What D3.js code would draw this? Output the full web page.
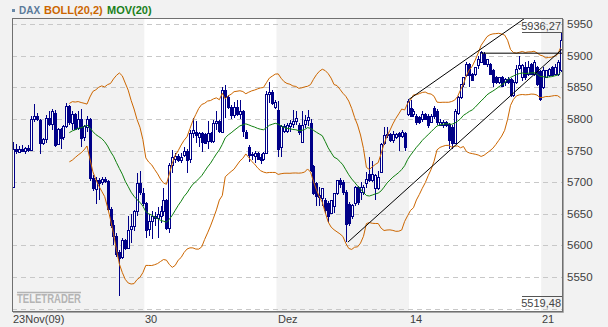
<!DOCTYPE html>
<html>
<head>
<meta charset="utf-8">
<script src="https://cdn.jsdelivr.net/npm/d3@7"></script>
<style>
  html, body { margin: 0; padding: 0; background: #f2f2f2; }
  svg { display: block; font-family: "Liberation Sans", Arial, sans-serif; }
</style>
</head>
<body>
<div id="chart"></div>
<script>
// hourly candles [open, high, low, close]
var candles = [
  [5692,5764,5690,5752],[5752,5760,5745,5749],[5749,5757,5746,5753],[5753,5758,5747,5750],
  [5750,5756,5745,5754],[5754,5759,5748,5751],[5751,5805,5750,5800],[5800,5823,5795,5804],
  [5804,5810,5797,5799],[5799,5800,5745,5762],[5762,5770,5758,5768],[5768,5806,5762,5802],
  [5802,5812,5788,5792],[5792,5815,5782,5812],[5810,5814,5755,5760],[5760,5786,5758,5784],
  [5784,5786,5752,5770],[5770,5790,5766,5788],[5788,5825,5786,5820],[5820,5822,5790,5794],
  [5794,5812,5782,5808],[5808,5810,5782,5785],[5785,5813,5782,5800],[5800,5815,5756,5770],
  [5770,5790,5765,5788],[5788,5805,5780,5800],[5800,5802,5702,5706],[5706,5712,5686,5690],
  [5690,5708,5665,5704],[5704,5706,5672,5700],[5700,5708,5696,5705],[5705,5708,5698,5702],
  [5702,5704,5655,5658],[5658,5660,5628,5632],[5632,5640,5600,5615],[5615,5620,5582,5586],
  [5590,5592,5519.48,5581],[5581,5612,5578,5608],[5608,5610,5592,5596],[5596,5646,5594,5625],
  [5625,5650,5604,5630],[5630,5656,5622,5654],[5654,5714,5646,5698],[5698,5718,5680,5683],
  [5683,5690,5662,5667],[5667,5668,5612,5625],[5625,5650,5614,5638],[5638,5655,5610,5646],
  [5646,5652,5630,5643],[5643,5660,5612,5650],[5646,5662,5636,5654],[5654,5690,5646,5672],
  [5672,5674,5625,5628],[5628,5730,5620,5727],[5727,5751,5715,5740],[5738,5746,5730,5742],
  [5742,5744,5732,5735],[5735,5746,5730,5740],[5743,5756,5740,5750],[5750,5752,5715,5736],
  [5736,5783,5731,5777],[5777,5801,5770,5782],[5780,5796,5762,5776],[5772,5780,5755,5778],
  [5778,5780,5748,5764],[5776,5778,5760,5762],[5764,5796,5752,5777],[5777,5779,5762,5764],
  [5764,5798,5762,5793],[5793,5812,5782,5796],[5796,5798,5778,5780],[5780,5850,5778,5846],
  [5846,5854,5802,5835],[5835,5838,5816,5819],[5819,5822,5800,5806],[5806,5826,5802,5819],
  [5819,5830,5805,5808],[5808,5830,5800,5812],[5812,5814,5772,5780],[5780,5782,5768,5770],
  [5756,5759,5732,5744],[5744,5748,5735,5742],[5742,5749,5730,5746],[5746,5748,5735,5737],
  [5740,5745,5728,5736],[5736,5748,5734,5746],[5746,5844,5744,5840],[5840,5859,5825,5843],
  [5843,5846,5822,5825],[5819,5830,5816,5827],[5814,5828,5740,5753],[5754,5790,5740,5788],
  [5780,5792,5778,5788],[5782,5794,5778,5791],[5788,5798,5780,5793],[5791,5814,5786,5796],
  [5796,5812,5790,5801],[5791,5793,5775,5780],[5764,5812,5762,5791],[5791,5806,5785,5798],
  [5798,5814,5788,5803],[5793,5800,5716,5719],[5725,5727,5680,5683],[5698,5700,5662,5677],
  [5677,5693,5662,5680],[5675,5691,5662,5691],[5672,5675,5650,5656],[5667,5670,5635,5646],
  [5651,5672,5650,5672],[5662,5683,5651,5683],[5683,5704,5680,5704],[5704,5706,5690,5698],
  [5700,5704,5680,5684],[5684,5688,5605,5634],[5666,5668,5630,5636],[5647,5666,5642,5664],
  [5666,5694,5662,5692],[5692,5694,5664,5668],[5684,5700,5672,5692],[5684,5696,5680,5692],
  [5698,5716,5690,5705],[5713,5740,5700,5703],[5703,5734,5700,5713],[5690,5713,5671,5711],
  [5690,5718,5688,5708],[5716,5762,5714,5761],[5761,5787,5758,5774],[5774,5787,5770,5776],
  [5776,5778,5763,5766],[5766,5781,5762,5776],[5771,5778,5768,5776],[5777,5779,5750,5772],
  [5772,5782,5770,5779],[5777,5779,5750,5755],[5808,5832,5805,5829],[5818,5830,5803,5805],
  [5808,5816,5803,5813],[5805,5807,5790,5795],[5803,5805,5792,5795],[5800,5813,5795,5808],
  [5808,5810,5798,5800],[5805,5807,5786,5790],[5795,5808,5793,5805],[5818,5821,5800,5805],
  [5813,5815,5790,5795],[5790,5800,5788,5795],[5790,5798,5786,5795],[5795,5797,5787,5790],
  [5792,5794,5753,5766],[5787,5790,5752,5761],[5761,5816,5760,5812],[5808,5836,5806,5834],
  [5834,5856,5832,5855],[5855,5867,5850,5866],[5869,5890,5866,5887],[5887,5889,5850,5870],
  [5871,5873,5860,5861],[5871,5882,5868,5882],[5885,5900,5879,5895],[5890,5908,5888,5906],
  [5903,5906,5885,5887],[5887,5895,5882,5895],[5887,5889,5869,5871],[5877,5879,5850,5858],
  [5866,5868,5855,5858],[5858,5866,5855,5866],[5866,5868,5850,5852],[5858,5865,5852,5863],
  [5863,5866,5856,5858],[5863,5864,5834,5837],[5837,5862,5835,5858],[5858,5885,5855,5879],
  [5880,5900,5878,5885],[5866,5887,5860,5885],[5882,5890,5862,5866],[5871,5892,5868,5882],
  [5887,5889,5869,5871],[5871,5893,5868,5890],[5882,5884,5852,5855],[5876,5878,5829,5831],
  [5850,5882,5848,5877],[5866,5878,5864,5877],[5869,5880,5866,5879],[5882,5884,5868,5869],
  [5871,5887,5869,5882],[5871,5893,5868,5890],[5878,5936.27,5874,5925]
];

var tickIndex = [0, 45, 90, 135, 180];
var tickLabels = ["23Nov(09)", "30", "Dez", "14", "21"];
var yTicks = [5500, 5550, 5600, 5650, 5700, 5750, 5800, 5850, 5900, 5950];

// drawn trend lines: [candle index, price] end points
var trendLines = [
  [[113.7, 5605], [186.5, 5910]],
  [[134.5, 5831], [174.1, 5960]],
  [[159, 5904], [186.5, 5904]]
];

var legend = [
  { text: "DAX", color: "#5a7a9a", x: 19 },
  { text: "BOLL(20,2)", color: "#cc6600", x: 44 },
  { text: "MOV(20)", color: "#1a801a", x: 107 }
];

var W = 608, H = 327;
var pLeft = 12, pRight = 562, pTop = 18, pBottom = 311;

var svg = d3.select("#chart").append("svg")
  .attr("width", W).attr("height", H);

svg.append("rect").attr("width", W).attr("height", H).attr("fill", "#f2f2f2");

var x = d3.scaleLinear().domain([0, candles.length]).range([pLeft, pRight]);
var y = d3.scaleLinear().domain([5500, 5950]).range([308.5, 24.1]);

svg.append("clipPath").attr("id", "plotClip")
  .append("rect").attr("x", pLeft).attr("y", pTop)
  .attr("width", pRight - pLeft).attr("height", pBottom - pTop);

var plot = svg.append("g").attr("clip-path", "url(#plotClip)");

// weekly shading
var weeks = tickIndex.map(function(t, k) {
  return { from: t, to: k < tickIndex.length - 1 ? tickIndex[k + 1] : candles.length, k: k };
});
plot.selectAll(".week").data(weeks).enter().append("rect")
  .attr("x", function(d) { return x(d.from); })
  .attr("width", function(d) { return x(d.to) - x(d.from); })
  .attr("y", pTop).attr("height", pBottom - pTop)
  .attr("fill", function(d) { return d.k % 2 === 0 ? "#f2f2f2" : "#ffffff"; });

// dashed grid
plot.selectAll(".grid").data(yTicks).enter().append("line")
  .attr("x1", pLeft).attr("x2", pRight)
  .attr("y1", function(d) { return Math.round(y(d)) + 0.5; })
  .attr("y2", function(d) { return Math.round(y(d)) + 0.5; })
  .attr("stroke", "#c8c8c8")
  .attr("stroke-dasharray", "5,4");

// candles
var navy = "#000088";
function cx(i) { return Math.round(x(i + 0.5)) + 0.5; }

plot.selectAll(".wick").data(candles).enter().append("line")
  .attr("x1", function(d, i) { return cx(i); })
  .attr("x2", function(d, i) { return cx(i); })
  .attr("y1", function(d) { return Math.round(y(d[1])); })
  .attr("y2", function(d) { return Math.round(y(d[2])); })
  .attr("stroke", navy);

plot.selectAll(".body").data(candles).enter().append("rect")
  .attr("x", function(d, i) { return cx(i) - 1; })
  .attr("width", 2)
  .attr("y", function(d) { return Math.round(y(Math.max(d[0], d[3]))) + 0.5; })
  .attr("height", function(d) { return Math.max(1, Math.round(Math.abs(y(d[0]) - y(d[3])))); })
  .attr("fill", function(d) { return d[3] >= d[0] ? "#ffffff" : navy; })
  .attr("stroke", navy);

// Bollinger (20,2) and moving average (20) from the closes
var closes = candles.map(function(d) { return d[3]; });
var boll = [];
for (var i = 19; i < closes.length; i++) {
  var win = closes.slice(i - 19, i + 1);
  var m = d3.mean(win);
  var sd = Math.sqrt(d3.mean(win, function(v) { return (v - m) * (v - m); }));
  boll.push({ i: i, mid: m, up: m + 2 * sd, lo: m - 2 * sd });
}

function bandLine(key) {
  return d3.line()
    .x(function(d) { return x(d.i + 0.5); })
    .y(function(d) { return y(d[key]); });
}

plot.append("path").datum(boll).attr("d", bandLine("up"))
  .attr("fill", "none").attr("stroke", "#cc6600").attr("stroke-width", 1);
plot.append("path").datum(boll).attr("d", bandLine("lo"))
  .attr("fill", "none").attr("stroke", "#cc6600").attr("stroke-width", 1);
plot.append("path").datum(boll).attr("d", bandLine("mid"))
  .attr("fill", "none").attr("stroke", "#108010").attr("stroke-width", 1);

// trend lines
plot.selectAll(".trend").data(trendLines).enter().append("line")
  .attr("x1", function(d) { return x(d[0][0] + 0.5); })
  .attr("y1", function(d) { return y(d[0][1]); })
  .attr("x2", function(d) { return x(d[1][0] + 0.5); })
  .attr("y2", function(d) { return y(d[1][1]); })
  .attr("stroke", "#000").attr("stroke-width", 1);

// max / min markers
var de = d3.formatLocale({ decimal: ",", thousands: ".", grouping: [3], currency: ["", ""] });
var fmt = de.format(".2f");
var maxVal = d3.max(candles, function(d) { return d[1]; });
var minVal = d3.min(candles, function(d) { return d[2]; });

svg.append("line").attr("x1", 522).attr("x2", 562).attr("y1", 32.5).attr("y2", 32.5)
  .attr("stroke", "#555");
svg.append("text").attr("x", 561).attr("y", 30)
  .attr("text-anchor", "end").attr("font-size", "11px").attr("fill", "#444")
  .text(fmt(maxVal));

svg.append("line").attr("x1", 522).attr("x2", 562).attr("y1", 296.5).attr("y2", 296.5)
  .attr("stroke", "#555");
svg.append("text").attr("x", 561).attr("y", 307)
  .attr("text-anchor", "end").attr("font-size", "11px").attr("fill", "#444")
  .text(fmt(minVal));

// logo
svg.append("line").attr("x1", 17).attr("x2", 81).attr("y1", 292.5).attr("y2", 292.5)
  .attr("stroke", "#b4b4b4").attr("stroke-width", 1.5);
svg.append("text").attr("x", 17).attr("y", 303)
  .attr("font-size", "12px").attr("font-weight", "bold").attr("fill", "#b4b4b4")
  .attr("textLength", 64).attr("lengthAdjust", "spacingAndGlyphs")
  .text("TELETRADER");

// frame
svg.append("rect").attr("x", pLeft + 0.5).attr("y", pTop + 0.5)
  .attr("width", pRight - pLeft).attr("height", pBottom - pTop)
  .attr("fill", "none").attr("stroke", "#707070");
svg.append("path")
  .attr("d", "M" + (pRight + 1.5) + "," + (pTop + 1) + "V" + (pBottom + 1.5) + "H" + (pLeft + 1))
  .attr("fill", "none").attr("stroke", "#a8a8a8");

// right axis labels
svg.selectAll(".ylab").data(yTicks.filter(function(d) { return d > 5500; })).enter().append("text")
  .attr("x", 567)
  .attr("y", function(d) { return y(d); })
  .attr("dy", "0.36em")
  .attr("font-size", "11.5px").attr("fill", "#404040")
  .text(function(d) { return d; });

// bottom labels
svg.selectAll(".xlab").data(tickIndex).enter().append("text")
  .attr("x", function(d) { return Math.round(x(d)) + 1; })
  .attr("y", 323)
  .attr("font-size", "11px").attr("fill", "#404040")
  .text(function(d, i) { return tickLabels[i]; });

// legend
svg.append("rect").attr("x", 12).attr("y", 9).attr("width", 3).attr("height", 3)
  .attr("fill", "#6a89a8");
svg.selectAll(".leg").data(legend).enter().append("text")
  .attr("x", function(d) { return d.x; })
  .attr("y", 14)
  .attr("font-size", function(d, i) { return i === 0 ? "10px" : "11px"; })
  .attr("font-weight", "bold")
  .attr("fill", function(d) { return d.color; })
  .text(function(d) { return d.text; });
</script>
</body>
</html>
